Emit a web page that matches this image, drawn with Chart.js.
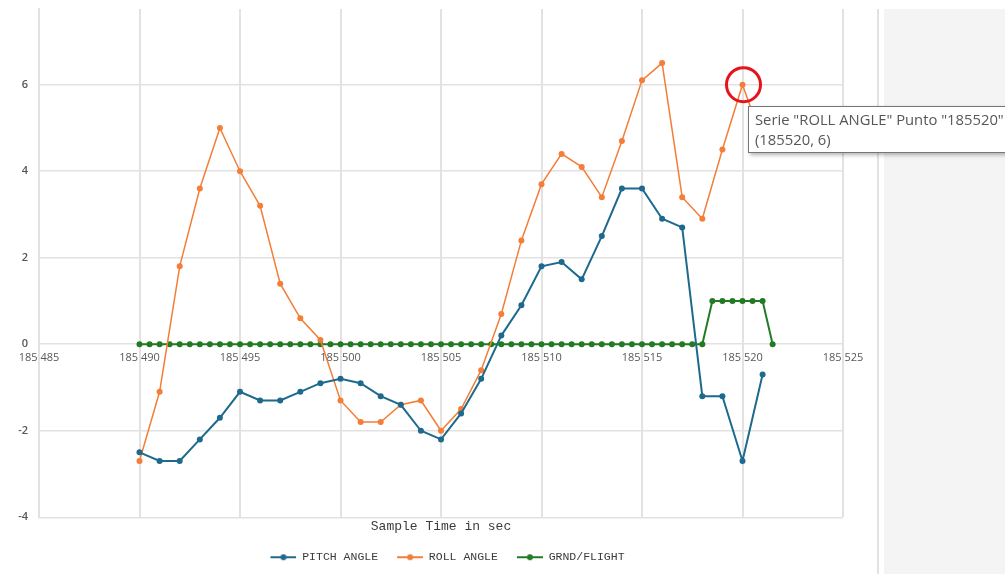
<!DOCTYPE html>
<html>
<head>
<meta charset="utf-8">
<script src="https://cdn.jsdelivr.net/npm/chart.js@4.4.1/dist/chart.umd.min.js"></script>
<style>
    html, body { margin: 0; padding: 0; background: #fff; overflow: hidden; }
    #wrap { position: relative; width: 1005px; height: 574px; }
    #sidePanel { position: absolute; left: 884px; top: 9px; width: 121px; height: 565px; background: #f4f4f4; }
    #sideRule { position: absolute; left: 877px; top: 9px; width: 2px; height: 565px; background: #e2e2e2; }
    #chartBox { position: absolute; left: 0; top: 0; width: 1005px; height: 574px; }
</style>
</head>
<body>
<div id="wrap">
    <div id="sidePanel"></div>
    <div id="sideRule"></div>
    <div id="chartBox"><canvas id="attitudeChart"></canvas></div>
</div>
<script>
/* ---------------------------------------------------------------- */
/*  DONNÉES                                                         */
/* ---------------------------------------------------------------- */

const SAMPLE_TIMES = [
    185490, 185491, 185492, 185493, 185494, 185495, 185496, 185497,
    185498, 185499, 185500, 185501, 185502, 185503, 185504, 185505,
    185506, 185507, 185508, 185509, 185510, 185511, 185512, 185513,
    185514, 185515, 185516, 185517, 185518, 185519, 185520, 185521
];

const PITCH_ANGLE = [
    -2.5, -2.7, -2.7, -2.2, -1.7, -1.1, -1.3, -1.3,
    -1.1, -0.9, -0.8, -0.9, -1.2, -1.4, -2.0, -2.2,
    -1.6, -0.8, 0.2, 0.9, 1.8, 1.9, 1.5, 2.5,
    3.6, 3.6, 2.9, 2.7, -1.2, -1.2, -2.7, -0.7
];

const ROLL_ANGLE = [
    -2.7, -1.1, 1.8, 3.6, 5.0, 4.0, 3.2, 1.4,
    0.6, 0.1, -1.3, -1.8, -1.8, -1.4, -1.3, -2.0,
    -1.5, -0.6, 0.7, 2.4, 3.7, 4.4, 4.1, 3.4,
    4.7, 6.1, 6.5, 3.4, 2.9, 4.5, 6.0, 4.7
];

const GRND_TIMES = [
    185490, 185490.5, 185491, 185491.5, 185492, 185492.5, 185493, 185493.5,
    185494, 185494.5, 185495, 185495.5, 185496, 185496.5, 185497, 185497.5,
    185498, 185498.5, 185499, 185499.5, 185500, 185500.5, 185501, 185501.5,
    185502, 185502.5, 185503, 185503.5, 185504, 185504.5, 185505, 185505.5,
    185506, 185506.5, 185507, 185507.5, 185508, 185508.5, 185509, 185509.5,
    185510, 185510.5, 185511, 185511.5, 185512, 185512.5, 185513, 185513.5,
    185514, 185514.5, 185515, 185515.5, 185516, 185516.5, 185517, 185517.5,
    185518, 185518.5, 185519, 185519.5, 185520, 185520.5, 185521, 185521.5
];

const GRND_FLIGHT = [
    0, 0, 0, 0, 0, 0, 0, 0,
    0, 0, 0, 0, 0, 0, 0, 0,
    0, 0, 0, 0, 0, 0, 0, 0,
    0, 0, 0, 0, 0, 0, 0, 0,
    0, 0, 0, 0, 0, 0, 0, 0,
    0, 0, 0, 0, 0, 0, 0, 0,
    0, 0, 0, 0, 0, 0, 0, 0,
    0, 1, 1, 1, 1, 1, 1, 0
];

const SERIES_LABELS = ['PITCH ANGLE', 'ROLL ANGLE', 'GRND/FLIGHT'];
const SERIES_COLORS = ['#1d6a8d', '#f47d38', '#227b22'];
const X_TITLE = 'Sample Time in sec';
const HIGHLIGHT_TIME = 185520;   // point survolé (série ROLL ANGLE)

/* ---------------------------------------------------------------- */
/*  UTILITAIRES                                                     */
/* ---------------------------------------------------------------- */

function toPoints(xs, ys) {
    return xs.map((x, i) => ({ x: x, y: ys[i] }));
}

// petite icône "trait + point" pour la légende
function legendIcon(color) {
    const c = document.createElement('canvas');
    c.width = 39;
    c.height = 8;
    const g = c.getContext('2d');
    g.strokeStyle = color;
    g.lineWidth = 2;
    g.beginPath();
    g.moveTo(13, 4);
    g.lineTo(39, 4);
    g.stroke();
    g.fillStyle = color;
    g.beginPath();
    g.arc(26, 4, 3, 0, Math.PI * 2);
    g.fill();
    return c;
}

const legendIcons = SERIES_COLORS.map(legendIcon);

// cercle rouge + info-bulle façon Windows sur le point survolé
const highlightPlugin = {
    id: 'pointHighlight',
    afterDraw(chart) {
        const idx = SAMPLE_TIMES.indexOf(HIGHLIGHT_TIME);
        const pt = chart.getDatasetMeta(1).data[idx];
        if (!pt) return;
        const ctx = chart.ctx;
        ctx.save();

        ctx.strokeStyle = '#e5131c';
        ctx.lineWidth = 3;
        ctx.beginPath();
        ctx.arc(pt.x + 1, pt.y, 17, 0, Math.PI * 2);
        ctx.stroke();

        const lines = [
            'Serie "' + SERIES_LABELS[1] + '" Punto "' + HIGHLIGHT_TIME + '"',
            '(' + HIGHLIGHT_TIME + ', ' + ROLL_ANGLE[idx] + ')'
        ];
        ctx.font = '14.8px "Open Sans"';
        const w = Math.max(...lines.map(l => ctx.measureText(l).width)) + 16;
        const bx = Math.round(pt.x) + 5;
        const by = Math.round(pt.y) + 21;
        const bh = 47;

        ctx.shadowColor = 'rgba(0,0,0,0.3)';
        ctx.shadowBlur = 4;
        ctx.shadowOffsetX = 2;
        ctx.shadowOffsetY = 2;
        ctx.fillStyle = '#ffffff';
        ctx.fillRect(bx, by, w, bh);
        ctx.shadowColor = 'transparent';
        ctx.strokeStyle = '#767676';
        ctx.lineWidth = 1;
        ctx.strokeRect(bx + 0.5, by + 0.5, w - 1, bh - 1);

        ctx.fillStyle = '#575757';
        ctx.textBaseline = 'middle';
        ctx.fillText(lines[0], bx + 7, by + 15);
        ctx.fillText(lines[1], bx + 7, by + 35);
        ctx.restore();
    }
};

/* ---------------------------------------------------------------- */
/*  GRAPHIQUE                                                       */
/* ---------------------------------------------------------------- */

function makeDataset(i, points, width) {
    return {
        label: SERIES_LABELS[i],
        data: points,
        borderColor: SERIES_COLORS[i],
        backgroundColor: SERIES_COLORS[i],
        pointBackgroundColor: SERIES_COLORS[i],
        pointBorderWidth: 0,
        pointRadius: 3,
        borderWidth: width,
        tension: 0
    };
}

new Chart(document.getElementById('attitudeChart'), {
    type: 'line',
    data: {
        datasets: [
            makeDataset(0, toPoints(SAMPLE_TIMES, PITCH_ANGLE), 2),
            makeDataset(1, toPoints(SAMPLE_TIMES, ROLL_ANGLE), 1.5),
            makeDataset(2, toPoints(GRND_TIMES, GRND_FLIGHT), 2)
        ]
    },
    options: {
        responsive: true,
        maintainAspectRatio: false,
        animation: false,
        devicePixelRatio: 1,
        layout: { padding: { left: 0, top: 9, right: 162, bottom: 1 } },
        scales: {
            x: {
                type: 'linear',
                position: { y: 0 },
                min: 185485,
                max: 185525,
                grid: { color: '#e2e2e2', lineWidth: 2, drawTicks: false },
                border: { display: false },
                ticks: {
                    stepSize: 5,
                    padding: 7,
                    maxRotation: 0,
                    color: '#585858',
                    font: { family: '"Open Sans"', size: 11 },
                    callback: v => String(v).replace(/(\d{3})$/, ' $1')
                },
                afterFit: s => { s.paddingLeft = 0; s.paddingRight = 0; }
            },
            y: {
                min: -4,
                max: 7.75,
                grid: { color: '#e2e2e2', lineWidth: 1.5, drawTicks: false },
                border: { color: '#e2e2e2', width: 2 },
                ticks: {
                    stepSize: 2,
                    includeBounds: false,
                    padding: 11,
                    color: '#555',
                    font: { family: '"Open Sans"', size: 11, weight: '600' }
                },
                afterFit: s => { s.width = 39; s.paddingTop = 0; s.paddingBottom = 0; }
            }
        },
        plugins: {
            title: {
                display: true,
                text: X_TITLE,
                position: 'bottom',
                fullSize: false,
                weight: 500,
                color: '#3c3c3c',
                font: { family: '"Liberation Mono", "Courier New", monospace', size: 13, weight: 'normal', lineHeight: 1.2 },
                padding: { top: 2, bottom: 10.65 }
            },
            legend: {
                position: 'bottom',
                fullSize: false,
                labels: {
                    usePointStyle: true,
                    pointStyleWidth: 39,
                    padding: 6,
                    color: '#3c3c3c',
                    font: { family: '"Liberation Mono", "Courier New", monospace', size: 11.5 },
                    generateLabels(chart) {
                        const items = Chart.defaults.plugins.legend.labels.generateLabels(chart);
                        items.forEach(it => { it.pointStyle = legendIcons[it.datasetIndex]; });
                        return items;
                    }
                }
            },
            tooltip: { enabled: false }
        }
    },
    plugins: [highlightPlugin]
});
</script>
</body>
</html>
